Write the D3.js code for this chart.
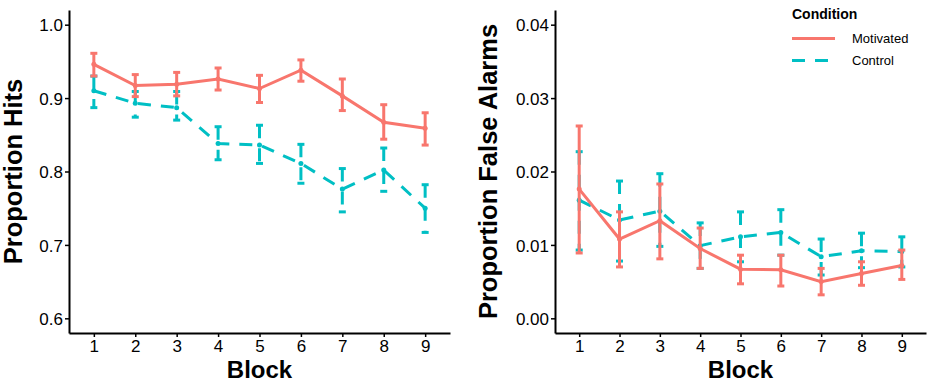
<!DOCTYPE html>
<html>
<head>
<meta charset="utf-8">
<script src="https://cdn.jsdelivr.net/npm/d3@7"></script>
<style>
  body { margin: 0; background: #fff; }
  text { font-family: "Liberation Sans", Arial, sans-serif; }
</style>
</head>
<body>
<svg id="chart" width="935" height="386"></svg>
<script>

const blocks = [1, 2, 3, 4, 5, 6, 7, 8, 9]

// proportion hits
const hitsMotivated    = [0.946, 0.917, 0.919, 0.926, 0.913, 0.938, 0.903, 0.867, 0.859]
const hitsMotivatedLo  = [0.930, 0.902, 0.903, 0.911, 0.894, 0.923, 0.883, 0.844, 0.836]
const hitsMotivatedHi  = [0.961, 0.932, 0.935, 0.941, 0.931, 0.952, 0.926, 0.891, 0.880]
const hitsControl      = [0.910, 0.893, 0.887, 0.838, 0.836, 0.811, 0.776, 0.802, 0.750]
const hitsControlLo    = [0.887, 0.874, 0.870, 0.816, 0.811, 0.784, 0.745, 0.773, 0.717]
const hitsControlHi    = [0.930, 0.909, 0.909, 0.861, 0.863, 0.837, 0.804, 0.832, 0.782]

// proportion false alarms
const faMotivated      = [0.0176, 0.0108, 0.0133, 0.0095, 0.0067, 0.0066, 0.0050, 0.0061, 0.0072]
const faMotivatedLo    = [0.0089, 0.0070, 0.0081, 0.0068, 0.0047, 0.0044, 0.0032, 0.0045, 0.0053]
const faMotivatedHi    = [0.0262, 0.0145, 0.0183, 0.0123, 0.0086, 0.0086, 0.0068, 0.0077, 0.0093]
const faControl        = [0.0161, 0.0134, 0.0146, 0.0099, 0.0111, 0.0117, 0.0084, 0.0092, 0.0091]
const faControlLo      = [0.0093, 0.0078, 0.0098, 0.0068, 0.0077, 0.0086, 0.0059, 0.0069, 0.0070]
const faControlHi      = [0.0227, 0.0187, 0.0197, 0.0130, 0.0145, 0.0148, 0.0108, 0.0116, 0.0111]

const hitsTicks = [0.6, 0.7, 0.8, 0.9, 1.0]
const faTicks   = [0.00, 0.01, 0.02, 0.03, 0.04]

const conditions = ["Motivated", "Control"]
const colMotivated = "#F8766D"
const colControl   = "#00BFC4"
const dashControl  = "13,10"

const svg = d3.select("#chart")

function series( mean, lo, hi ){
  return blocks.map( (b, i) => ({ block: b, m: mean[ i ], lo: lo[ i ], hi: hi[ i ] }) )
}

function drawPanel( opt ){
  const g = svg.append("g")

  const x = d3.scalePoint()
              .domain( blocks )
              .range( [opt.left, opt.right] )
              .padding( 0.6 )

  const y = d3.scaleLinear()
              .domain( opt.ydomain )
              .range( [333, 10] )

  // axes
  const yAxis = g.append("g")
                 .attr("transform", "translate(" + opt.left + ",0)")
                 .call( d3.axisLeft(y).tickValues(opt.ticks).tickFormat(opt.fmt)
                          .tickSize(4).tickSizeOuter(0).tickPadding(2) )
  const xAxis = g.append("g")
                 .attr("transform", "translate(0,333)")
                 .call( d3.axisBottom(x).tickSize(4).tickSizeOuter(0).tickPadding(3) )

  g.selectAll(".domain").attr("stroke", "#000").attr("stroke-width", 2)
  g.selectAll(".tick line").attr("stroke", "#000").attr("stroke-width", 1.5)
  g.selectAll(".tick text")
   .attr("font-size", 17)
   .attr("fill", "#000")
   .style("font-family", "'Liberation Sans', Arial, sans-serif")
  yAxis.selectAll(".tick text").attr("dy", "0.36em")

  // titles
  g.append("text")
   .attr("transform", "translate(" + opt.titleX + ",171.5) rotate(-90)")
   .attr("text-anchor", "middle")
   .attr("font-size", 25.5)
   .attr("font-weight", "bold")
   .text( opt.ytitle )

  g.append("text")
   .attr("x", (opt.left + opt.right) / 2)
   .attr("y", 378)
   .attr("text-anchor", "middle")
   .attr("font-size", 24)
   .attr("font-weight", "bold")
   .text("Block")

  const line = d3.line()
                 .x( d => x(d.block) )
                 .y( d => y(d.m) )

  const groups = [
    { data: opt.control,   color: colControl,   dash: dashControl },
    { data: opt.motivated, color: colMotivated, dash: null }
  ]

  groups.forEach( s => {
    g.append("path")
     .datum( s.data )
     .attr("d", line)
     .attr("fill", "none")
     .attr("stroke", s.color)
     .attr("stroke-width", 3)
     .attr("stroke-dasharray", s.dash)

    const bars = g.append("g").selectAll("g")
                  .data( s.data )
                  .enter()
                  .append("g")

    const capW = 3.5
    // top cap, vertical, bottom cap as separate strokes
    bars.append("path")
        .attr("d", d => "M" + (x(d.block) - capW) + "," + y(d.hi) + "H" + (x(d.block) + capW))
    bars.append("path")
        .attr("d", d => "M" + x(d.block) + "," + y(d.hi) + "V" + y(d.lo))
    bars.append("path")
        .attr("d", d => "M" + (x(d.block) - capW) + "," + y(d.lo) + "H" + (x(d.block) + capW))
    bars.selectAll("path")
        .attr("fill", "none")
        .attr("stroke", s.color)
        .attr("stroke-width", 3)
        .attr("stroke-dasharray", s.dash)

    g.append("g").selectAll("circle")
     .data( s.data )
     .enter()
     .append("circle")
     .attr("cx", d => x(d.block))
     .attr("cy", d => y(d.m))
     .attr("r", 2.5)
     .attr("fill", s.color)
  })
}

drawPanel({
  left: 69, right: 450,
  ydomain: [0.58, 1.02],
  ticks: hitsTicks,
  fmt: d3.format(".1f"),
  ytitle: "Proportion Hits",
  titleX: 22,
  motivated: series( hitsMotivated, hitsMotivatedLo, hitsMotivatedHi ),
  control: series( hitsControl, hitsControlLo, hitsControlHi )
})

drawPanel({
  left: 555, right: 926,
  ydomain: [-0.002, 0.042],
  ticks: faTicks,
  fmt: d3.format(".2f"),
  ytitle: "Proportion False Alarms",
  titleX: 497,
  motivated: series( faMotivated, faMotivatedLo, faMotivatedHi ),
  control: series( faControl, faControlLo, faControlHi )
})

// legend
const legend = svg.append("g")

legend.append("text")
      .attr("x", 792)
      .attr("y", 18.5)
      .attr("font-size", 14)
      .attr("font-weight", "bold")
      .text("Condition")

const legendItems = legend.selectAll(".item")
                          .data( conditions )
                          .enter()
                          .append("g")
                          .attr("class", "item")
                          .attr("transform", (d, i) => "translate(0," + (38.5 + i * 22) + ")")

legendItems.append("line")
           .attr("x1", 792)
           .attr("x2", 835)
           .attr("stroke", d => d == "Motivated" ? colMotivated : colControl)
           .attr("stroke-width", 3)
           .attr("stroke-dasharray", d => d == "Motivated" ? null : dashControl)

legendItems.append("text")
           .attr("x", 852)
           .attr("dy", "0.36em")
           .attr("font-size", 13)
           .text( d => d )

</script>
</body>
</html>
